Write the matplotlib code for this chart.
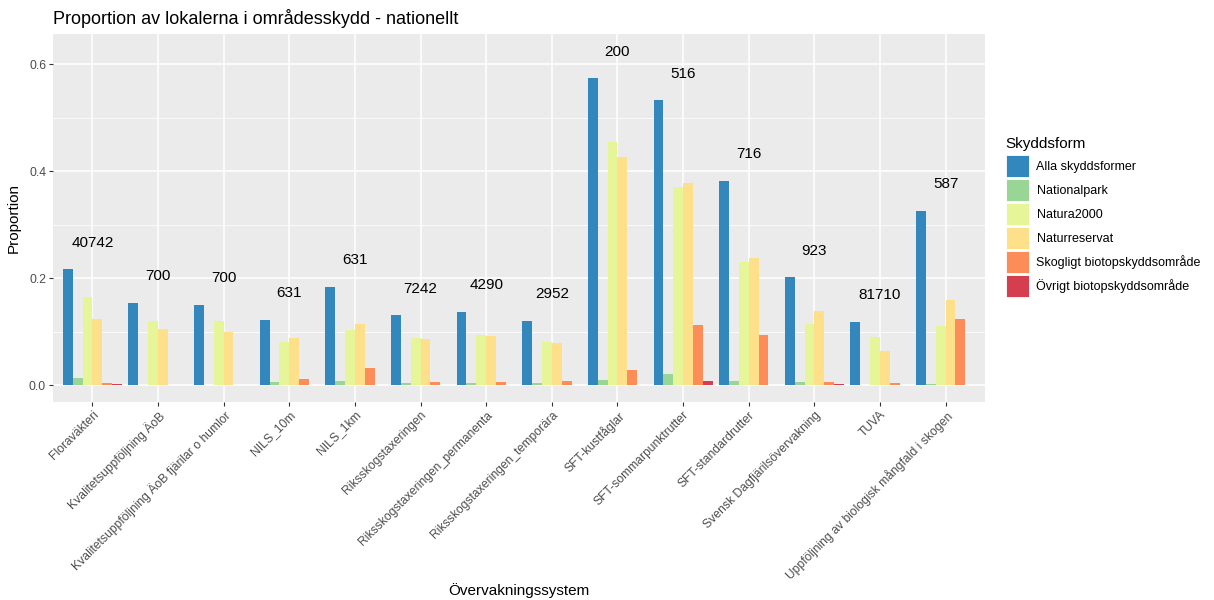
import matplotlib
matplotlib.use("Agg")
import matplotlib.pyplot as plt
import numpy as np
from matplotlib.patches import Patch

plt.rcParams['font.family'] = ['Liberation Sans', 'DejaVu Sans']

# overvakningssystem
systems = ["Floraväkteri", "Kvalitetsuppföljning ÄoB",
           "Kvalitetsuppföljning ÄoB fjärilar o humlor", "NILS_10m", "NILS_1km",
           "Riksskogstaxeringen", "Riksskogstaxeringen_permanenta",
           "Riksskogstaxeringen_temporära", "SFT-kustfåglar", "SFT-sommarpunktrutter",
           "SFT-standardrutter", "Svensk Dagfjärilsövervakning", "TUVA",
           "Uppföljning av biologisk mångfald i skogen"]
counts = [40742, 700, 700, 631, 631, 7242, 4290, 2952, 200, 516, 716, 923, 81710, 587]

forms = ["Alla skyddsformer", "Nationalpark", "Natura2000", "Naturreservat",
         "Skogligt biotopskyddsområde", "Övrigt biotopskyddsområde"]
colors = ["#3288BD", "#99D594", "#E6F598", "#FEE08B", "#FC8D59", "#D53E4F"]

alla = [0.217, 0.154, 0.150, 0.123, 0.184, 0.131, 0.138, 0.121, 0.574, 0.533, 0.382, 0.202, 0.119, 0.326]
nationalpark = [0.013, 0.001, 0.001, 0.007, 0.008, 0.0044, 0.0044, 0.004, 0.011, 0.022, 0.0075, 0.0056, 0.0006, 0.0025]
natura2000 = [0.166, 0.120, 0.120, 0.082, 0.103, 0.089, 0.094, 0.082, 0.455, 0.371, 0.231, 0.114, 0.090, 0.111]
naturreservat = [0.125, 0.105, 0.100, 0.0885, 0.115, 0.087, 0.092, 0.079, 0.427, 0.378, 0.238, 0.1396, 0.065, 0.1595]
skogligt = [0.0044, 0.0006, 0.0006, 0.012, 0.032, 0.007, 0.007, 0.0087, 0.029, 0.113, 0.094, 0.0056, 0.0044, 0.125]
ovrigt = [0.0025, 0.0006, 0.0006, 0.0, 0.0, 0.0006, 0.0, 0.001, 0.0, 0.0087, 0.0, 0.0025, 0.0012, 0.0]

series = [alla, nationalpark, natura2000, naturreservat, skogligt, ovrigt]

fig = plt.figure(figsize=(12.14, 6.0), dpi=100)
ax = fig.add_axes([53/1214, 1 - 402/600, (985 - 53)/1214, (402 - 34)/600])
ax.set_facecolor("#EBEBEB")

x = np.arange(len(systems))
w = 0.9 / len(series)
for i, (vals, c) in enumerate(zip(series, colors)):
    ax.bar(x - 0.45 + w * (i + 0.5), vals, width=w, color=c, label=forms[i], zorder=3)

# antal lokaler ovanfor varje grupp
for xi, n, top in zip(x, counts, np.max(series, axis=0)):
    ax.text(xi, top + 0.05, str(n), ha='center', va='center', fontsize=11, color='black', zorder=4)

ax.set_xlim(-0.6, len(systems) - 0.4)
ax.set_ylim(-0.031, 0.657)
ax.set_yticks([0.0, 0.2, 0.4, 0.6])
ax.set_yticklabels(["0.0", "0.2", "0.4", "0.6"])
ax.set_yticks([0.1, 0.3, 0.5], minor=True)
ax.set_xticks(x)
ax.set_xticklabels(systems, rotation=45, ha='right', rotation_mode='anchor')

ax.grid(True, which='major', color='white', linewidth=1.1, zorder=0)
ax.grid(True, which='minor', axis='y', color='white', linewidth=0.55, zorder=0)
ax.set_axisbelow(True)
for s in ax.spines.values():
    s.set_visible(False)
ax.tick_params(axis='both', which='major', length=3, width=0.8, color='#333333',
               labelsize=8.7, labelcolor='#4D4D4D', pad=2)
ax.tick_params(axis='y', which='minor', length=0)

ax.set_ylabel("Proportion", fontsize=11, labelpad=6)
ax.set_xlabel("Övervakningssystem", fontsize=11)
ax.xaxis.set_label_coords(0.5, -(583 - 402) / 368)
fig.text(53/1214, 1 - 18/600, "Proportion av lokalerna i områdesskydd - nationellt",
         fontsize=13, ha='left', va='center')

handles = [Patch(facecolor=c, edgecolor='white', linewidth=0.6) for c in colors]
leg = fig.legend(handles, forms, title="Skyddsform", loc='upper left',
                 bbox_to_anchor=(1003/1214, 1 - 134/600), frameon=False,
                 fontsize=9, title_fontsize=11, handlelength=1.84, handleheight=2.33,
                 labelspacing=0.16, handletextpad=0.64, borderaxespad=0, borderpad=0.2)
leg._legend_box.align = "left"
leg._legend_box.sep = 3.5

fig.savefig("out.png", dpi=100)
